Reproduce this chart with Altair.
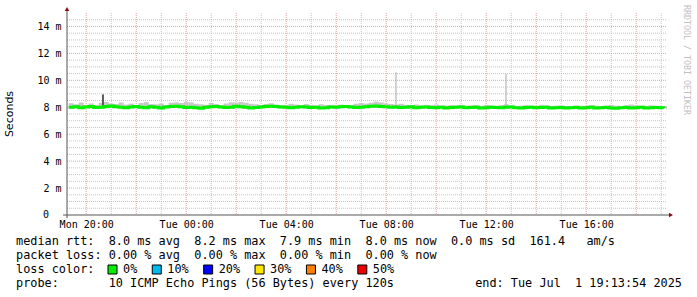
import altair as alt
import pandas as pd

# ---------------- data ----------------
START_H = 19 + 13 / 60 + 54 / 3600          # Mon 19:13:54 (hours since Mon 00:00)
END_H = START_H + 24                        # Tue 19:13:54
FIRST_SAMPLE_H = 19.3
SAMPLE_STEP_H = 0.2

median_ms = [
    8.00, 8.04, 7.96, 8.02, 8.05, 7.98, 8.00, 8.06, 8.09, 8.03, 8.00, 7.96, 8.02, 8.05, 8.00, 7.97, 8.04, 8.00, 7.95, 8.02,
    8.05, 8.07, 8.03, 7.98, 8.00, 7.96, 7.93, 8.00, 8.04, 8.05, 8.02, 7.98, 8.00, 8.07, 8.03, 8.00, 7.95, 7.98, 8.02, 8.05,
    8.08, 8.05, 8.02, 8.00, 7.96, 8.00, 8.04, 8.02, 7.98, 8.00, 7.95, 7.96, 8.02, 8.00, 8.04, 8.05, 8.02, 7.98, 8.00, 8.04,
    8.07, 8.09, 8.05, 8.03, 8.00, 8.02, 7.98, 8.00, 8.04, 7.96, 8.00, 8.02, 7.98, 7.96, 8.00, 7.95, 7.98, 8.00, 8.02, 7.96,
    7.98, 8.00, 7.95, 7.96, 8.00, 7.98, 7.96, 8.00, 8.02, 7.96, 7.95, 7.98, 8.00, 7.96, 7.98, 8.00, 7.95, 7.96, 7.98, 7.95,
    7.96, 7.98, 7.95, 7.96, 8.00, 7.95, 7.96, 7.98, 7.94, 7.93, 7.96, 7.98, 7.95, 7.96, 8.00, 7.95, 7.96, 7.98, 7.96, 7.95,
]

smoke_hi_ms = [
    8.30, 8.22, 8.36, 8.18, 8.28, 8.16, 8.33, 8.40, 8.28, 8.24, 8.36, 8.20, 8.27, 8.18, 8.32, 8.38, 8.24, 8.22, 8.28, 8.16,
    8.34, 8.37, 8.32, 8.40, 8.37, 8.26, 8.22, 8.18, 8.32, 8.24, 8.16, 8.28, 8.37, 8.35, 8.39, 8.33, 8.26, 8.22, 8.18, 8.24,
    8.30, 8.20, 8.16, 8.18, 8.26, 8.20, 8.16, 8.24, 8.18, 8.14, 8.22, 8.16, 8.18, 8.14, 8.20, 8.16, 8.18, 8.26, 8.32, 8.27,
    8.34, 8.42, 8.36, 8.28, 8.24, 8.20, 8.26, 8.18, 8.16, 8.20, 8.14, 8.18, 8.16, 8.20, 8.14, 8.12, 8.16, 8.14, 8.18, 8.12,
    8.14, 8.16, 8.10, 8.18, 8.14, 8.12, 8.16, 8.22, 8.14, 8.10, 8.12, 8.16, 8.13, 8.10, 8.18, 8.14, 8.10, 8.12, 8.14, 8.10,
    8.10, 8.14, 8.12, 8.10, 8.16, 8.12, 8.10, 8.14, 8.18, 8.12, 8.10, 8.16, 8.20, 8.14, 8.12, 8.10, 8.14, 8.12, 8.10, 8.09,
]

smoke_lo_ms = [
    7.92, 7.93, 7.90, 7.94, 7.92, 7.91, 7.93, 7.92, 7.95, 7.93, 7.91, 7.90, 7.92, 7.94, 7.92, 7.91, 7.93, 7.92, 7.89, 7.92,
    7.94, 7.95, 7.93, 7.91, 7.92, 7.90, 7.88, 7.91, 7.93, 7.94, 7.92, 7.91, 7.92, 7.95, 7.93, 7.92, 7.89, 7.90, 7.92, 7.94,
    7.95, 7.94, 7.92, 7.92, 7.90, 7.91, 7.93, 7.92, 7.91, 7.92, 7.89, 7.90, 7.92, 7.91, 7.93, 7.94, 7.92, 7.91, 7.92, 7.93,
    7.95, 7.96, 7.94, 7.93, 7.92, 7.92, 7.91, 7.92, 7.93, 7.90, 7.92, 7.93, 7.91, 7.90, 7.92, 7.89, 7.91, 7.92, 7.93, 7.90,
    7.91, 7.92, 7.89, 7.90, 7.92, 7.91, 7.90, 7.92, 7.93, 7.90, 7.89, 7.91, 7.92, 7.90, 7.91, 7.92, 7.89, 7.90, 7.91, 7.89,
    7.90, 7.91, 7.89, 7.90, 7.92, 7.89, 7.90, 7.91, 7.89, 7.88, 7.90, 7.91, 7.89, 7.90, 7.92, 7.89, 7.90, 7.91, 7.90, 7.89,
]

dark_spike_hour = [20.67]
dark_spike_base_ms = [8.05]
dark_spike_top_ms = [8.95]
light_spike_hour = [32.39, 36.79]
light_spike_base_ms = [8.05, 8.05]
light_spike_top_ms = [10.6, 10.5]

y_tick_values = [0, 2, 4, 6, 8, 10, 12, 14]
x_tick_hours = [20, 24, 28, 32, 36, 40]
x_tick_labels = ["Mon 20:00", "Tue 00:00", "Tue 04:00", "Tue 08:00", "Tue 12:00", "Tue 16:00"]

loss_labels = ["0%", "10%", "20%", "30%", "40%", "50%"]
loss_colors = ["#00ee00", "#00bbee", "#0000ff", "#ffe600", "#ff8000", "#ee0000"]

stat_lines = [
    "median rtt:  8.0 ms avg  8.2 ms max  7.9 ms min  8.0 ms now  0.0 ms sd  161.4   am/s",
    "packet loss: 0.00 % avg  0.00 % max  0.00 % min  0.00 % now",
    "loss color:",
    "probe:       10 ICMP Echo Pings (56 Bytes) every 120s",
]
end_text = "end: Tue Jul  1 19:13:54 2025"
y_title = "Seconds"
watermark = "RRDTOOL / TOBI OETIKER"

# ---------------- layout ----------------
W, H = 600, 202
PAD_L, PAD_T, PAD_R, PAD_B = 67, 13, 30, 82
MONO = "DejaVu Sans Mono"
LEG_SIZE = 11.85
CHAR_W = 7.13
GREEN = loss_colors[0]
MAJOR = "#e4a0a0"
MINOR = "#c4c4c4"
AXIS = "#555555"
ARROW = "#8b1010"


def nb(s):
    return s.replace(" ", "\u00a0")


hours = [FIRST_SAMPLE_H + SAMPLE_STEP_H * i for i in range(len(median_ms))]
df = pd.DataFrame({
    "t": hours,
    "t2": [h + SAMPLE_STEP_H for h in hours],
    "median": median_ms,
    "hi": smoke_hi_ms,
    "lo": smoke_lo_ms,
})

x_scale = alt.Scale(domain=[START_H, END_H], nice=False, zero=False)
y_scale = alt.Scale(domain=[0, 15], nice=False, zero=True)

x_label_expr = ""
for v, lab in zip(x_tick_hours, x_tick_labels):
    x_label_expr += f"datum.value == {v} ? '{lab}' : "
x_label_expr += "''"

x_axis = alt.Axis(values=x_tick_hours, labelExpr=x_label_expr, grid=False, domain=False,
                  ticks=False, labelPadding=4, labelFont=MONO, labelFontSize=10,
                  labelColor="#000000", title=None, labelFlush=False)
y_axis = alt.Axis(values=y_tick_values,
                  labelExpr="datum.value == 0 ? '' : datum.value + '\u00a0m'",
                  grid=False, domain=False, ticks=False, labelPadding=6, labelFont=MONO,
                  labelFontSize=10, labelColor="#000000", title=None)


def X(f):
    return alt.X(f, type="quantitative", scale=x_scale, axis=x_axis)


def Y(f):
    return alt.Y(f, type="quantitative", scale=y_scale, axis=y_axis)


y_major = [v for v in y_tick_values if v > 0]
y_minor = [v / 2 for v in range(1, 30) if v % 4 != 0]
x_major = [h for h in range(20, 44, 2)]
x_minor = [h for h in range(21, 44, 2)]

grid_y_minor = alt.Chart(pd.DataFrame({"v": y_minor})).mark_rule(
    color=MINOR, strokeDash=[1, 1], strokeWidth=1).encode(y=Y("v"), x=alt.value(0), x2=alt.value(W))
grid_x_minor = alt.Chart(pd.DataFrame({"h": x_minor})).mark_rule(
    color=MINOR, strokeDash=[1, 1], strokeWidth=1).encode(x=X("h"), y=alt.value(0), y2=alt.value(H))
grid_y_major = alt.Chart(pd.DataFrame({"v": y_major})).mark_rule(
    color=MAJOR, strokeDash=[1, 1], strokeWidth=1).encode(y=Y("v"), x=alt.value(0), x2=alt.value(W))
grid_x_major = alt.Chart(pd.DataFrame({"h": x_major})).mark_rule(
    color=MAJOR, strokeDash=[1, 1], strokeWidth=1).encode(x=X("h"), y=alt.value(0), y2=alt.value(H))

base = alt.Chart(df)
smoke = base.mark_rect(color="#c8c8c8", clip=True).encode(
    x=X("t"), x2="t2", y=Y("lo"), y2="hi")

light_spikes = alt.Chart(pd.DataFrame({"t": light_spike_hour, "b": light_spike_base_ms, "top": light_spike_top_ms})
                         ).mark_rule(color="#b4b4b4", strokeWidth=1.2).encode(x=X("t"), y=Y("b"), y2="top")
dark_spikes = alt.Chart(pd.DataFrame({"t": dark_spike_hour, "b": dark_spike_base_ms, "top": dark_spike_top_ms})
                        ).mark_rule(color="#5a5a5a", strokeWidth=2).encode(x=X("t"), y=Y("b"), y2="top")

median_line = base.mark_line(color=GREEN, strokeWidth=3, interpolate="step-after", clip=True).encode(
    x=X("t"), y=Y("median"))

zero_label = alt.Chart(pd.DataFrame({"v": [0], "s": ["0"]})).mark_text(
    align="right", baseline="middle", font=MONO, fontSize=10, color="#000000").encode(
    y=Y("v"), x=alt.value(-18), text="s:N")

one = pd.DataFrame({"k": [0]})
y_axis_line = alt.Chart(one).mark_rule(color=AXIS, strokeWidth=1).encode(
    x=alt.value(0), y=alt.value(-3), y2=alt.value(H + 3))
x_axis_line = alt.Chart(one).mark_rule(color=AXIS, strokeWidth=1).encode(
    x=alt.value(-4), x2=alt.value(W + 2), y=alt.value(H))
arrow_up = alt.Chart(one).mark_point(shape="triangle-up", filled=True, color=ARROW, size=22, opacity=1).encode(
    x=alt.value(0), y=alt.value(-4))
arrow_right = alt.Chart(one).mark_point(shape="triangle-right", filled=True, color=ARROW, size=22, opacity=1).encode(
    x=alt.value(W + 4), y=alt.value(H))

texts = []
line_y = [228, 242, 256, 270]
for s, yy in zip(stat_lines, line_y):
    texts.append(alt.Chart(pd.DataFrame({"s": [nb(s)]})).mark_text(
        align="left", baseline="middle", font=MONO, fontSize=LEG_SIZE, color="#000000").encode(
        text="s:N", x=alt.value(16 - PAD_L), y=alt.value(yy)))
texts.append(alt.Chart(pd.DataFrame({"s": [nb(end_text)]})).mark_text(
    align="right", baseline="middle", font=MONO, fontSize=LEG_SIZE, color="#000000").encode(
    text="s:N", x=alt.value(682 - PAD_L), y=alt.value(line_y[3])))

# loss colour legend boxes
box_x = []
x = 108.0
for lab in loss_labels:
    box_x.append(x)
    x = x + 15 + len(lab) * CHAR_W + 15
legend_df = pd.DataFrame({
    "bx": [bx + 4.5 - PAD_L for bx in box_x],
    "lx": [bx + 15 - PAD_L for bx in box_x],
    "lab": loss_labels,
    "col": loss_colors,
})
boxes = alt.Chart(legend_df).mark_square(size=81, stroke="#000000", strokeWidth=1, opacity=1, filled=True).encode(
    x=alt.X("bx:Q", scale=None, axis=None), y=alt.value(line_y[2] + 0.5),
    fill=alt.Fill("col:N", scale=None))
box_labels = alt.Chart(legend_df).mark_text(
    align="left", baseline="middle", font=MONO, fontSize=LEG_SIZE, color="#000000").encode(
    x=alt.X("lx:Q", scale=None, axis=None), y=alt.value(line_y[2]), text="lab:N")

ytitle = alt.Chart(one).mark_text(
    angle=270, align="center", baseline="middle", font="DejaVu Sans", fontSize=11, color="#000000").encode(
    x=alt.value(10 - PAD_L), y=alt.value(114 - PAD_T), text=alt.value(y_title))
wm = alt.Chart(one).mark_text(
    angle=90, align="center", baseline="middle", font=MONO, fontSize=8.3, color="#c0c0c0").encode(
    x=alt.value(686 - PAD_L), y=alt.value(60 - PAD_T), text=alt.value(watermark))

chart = alt.layer(
    grid_y_minor, grid_x_minor, grid_y_major, grid_x_major,
    smoke, light_spikes, dark_spikes, median_line, zero_label,
    y_axis_line, x_axis_line, arrow_up, arrow_right,
    *texts, boxes, box_labels, ytitle, wm,
).properties(
    width=W, height=H,
    autosize=alt.AutoSizeParams(type="none"),
    padding={"left": PAD_L, "top": PAD_T, "right": PAD_R, "bottom": PAD_B},
    background="#ffffff",
).configure_view(stroke=None)

chart.save("out.html", embed_options={"renderer": "svg", "actions": False})
